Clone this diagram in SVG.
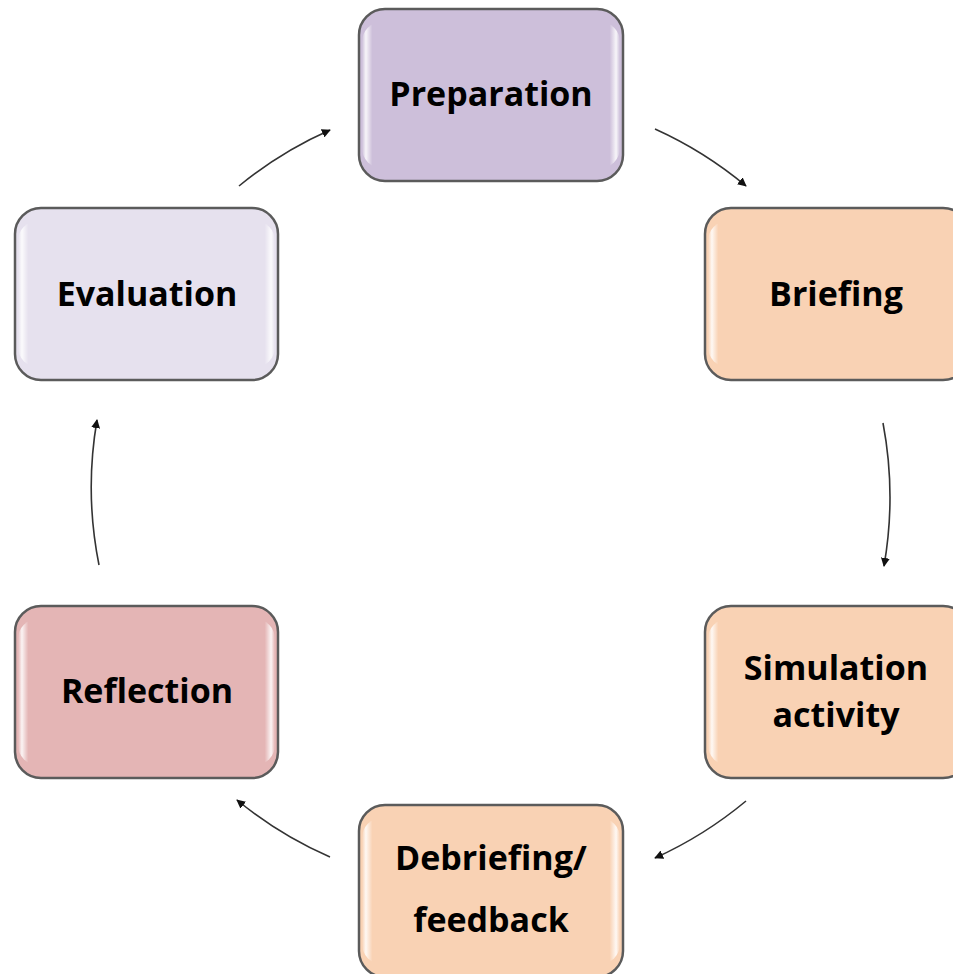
<svg xmlns="http://www.w3.org/2000/svg" width="953" height="974" viewBox="0 0 953 974">
<defs>
<style>
.box{stroke:#5b5b5b;stroke-width:2.5}
.gloss{fill:url(#gl);stroke:none}
.lbl{font-family:"Open Sans","Liberation Sans",sans-serif;font-weight:bold;font-size:34px;fill:#000;text-anchor:middle}
.conn{fill:none;stroke:#333;stroke-width:1.6}
</style>
<linearGradient id="gl" x1="0" y1="0" x2="1" y2="0">
<stop offset="0" stop-color="#fff" stop-opacity="0"/>
<stop offset="0.015" stop-color="#fff" stop-opacity="0.85"/>
<stop offset="0.04" stop-color="#fff" stop-opacity="0"/>
<stop offset="0.96" stop-color="#fff" stop-opacity="0"/>
<stop offset="0.985" stop-color="#fff" stop-opacity="0.85"/>
<stop offset="1" stop-color="#fff" stop-opacity="0"/>
</linearGradient>
<marker id="ah" viewBox="0 0 10 10" refX="9" refY="5" markerWidth="9" markerHeight="9" markerUnits="userSpaceOnUse" orient="auto">
<path d="M0,0 L10,5 L0,10 z" fill="#111"/>
</marker>
</defs>
<rect width="953" height="974" fill="#fff"/>
<g id="connectors">
<path class="conn" marker-end="url(#ah)" d="M239,186 A396,396 0 0 1 330,130"/>
<path class="conn" marker-end="url(#ah)" d="M655,129 A396,396 0 0 1 746,186"/>
<path class="conn" marker-end="url(#ah)" d="M883,423 A400,400 0 0 1 884,566"/>
<path class="conn" marker-end="url(#ah)" d="M746,801 A400,400 0 0 1 655,858"/>
<path class="conn" marker-end="url(#ah)" d="M330,857 A396,396 0 0 1 237,800"/>
<path class="conn" marker-end="url(#ah)" d="M99,565 A396,396 0 0 1 97,420"/>
</g>
<g id="preparation">
<rect class="box" x="359" y="9" width="264" height="172" rx="26" fill="#CDBFDA"/>
<rect class="gloss" x="362" y="22" width="258" height="146" rx="20"/>
<text class="lbl" x="491" y="106">Preparation</text>
</g>
<g id="briefing">
<rect class="box" x="705" y="208" width="264" height="172" rx="26" fill="#F9D2B4"/>
<rect class="gloss" x="708" y="221" width="258" height="146" rx="20"/>
<text class="lbl" x="836" y="306">Briefing</text>
</g>
<g id="simulation">
<rect class="box" x="705" y="606" width="264" height="172" rx="26" fill="#F9D2B4"/>
<rect class="gloss" x="708" y="619" width="258" height="146" rx="20"/>
<text class="lbl" x="836" y="680">Simulation</text>
<text class="lbl" x="836" y="727">activity</text>
</g>
<g id="debriefing">
<rect class="box" x="359" y="805" width="264" height="172" rx="26" fill="#F9D2B4"/>
<rect class="gloss" x="362" y="818" width="258" height="146" rx="20"/>
<text class="lbl" x="491" y="870">Debriefing/</text>
<text class="lbl" x="491" y="932">feedback</text>
</g>
<g id="reflection">
<rect class="box" x="15" y="606" width="263" height="172" rx="26" fill="#E4B5B5"/>
<rect class="gloss" x="18" y="619" width="257" height="146" rx="20"/>
<text class="lbl" x="147" y="703">Reflection</text>
</g>
<g id="evaluation">
<rect class="box" x="15" y="208" width="263" height="172" rx="26" fill="#E6E1EE"/>
<rect class="gloss" x="18" y="221" width="257" height="146" rx="20"/>
<text class="lbl" x="147" y="306">Evaluation</text>
</g>
</svg>
